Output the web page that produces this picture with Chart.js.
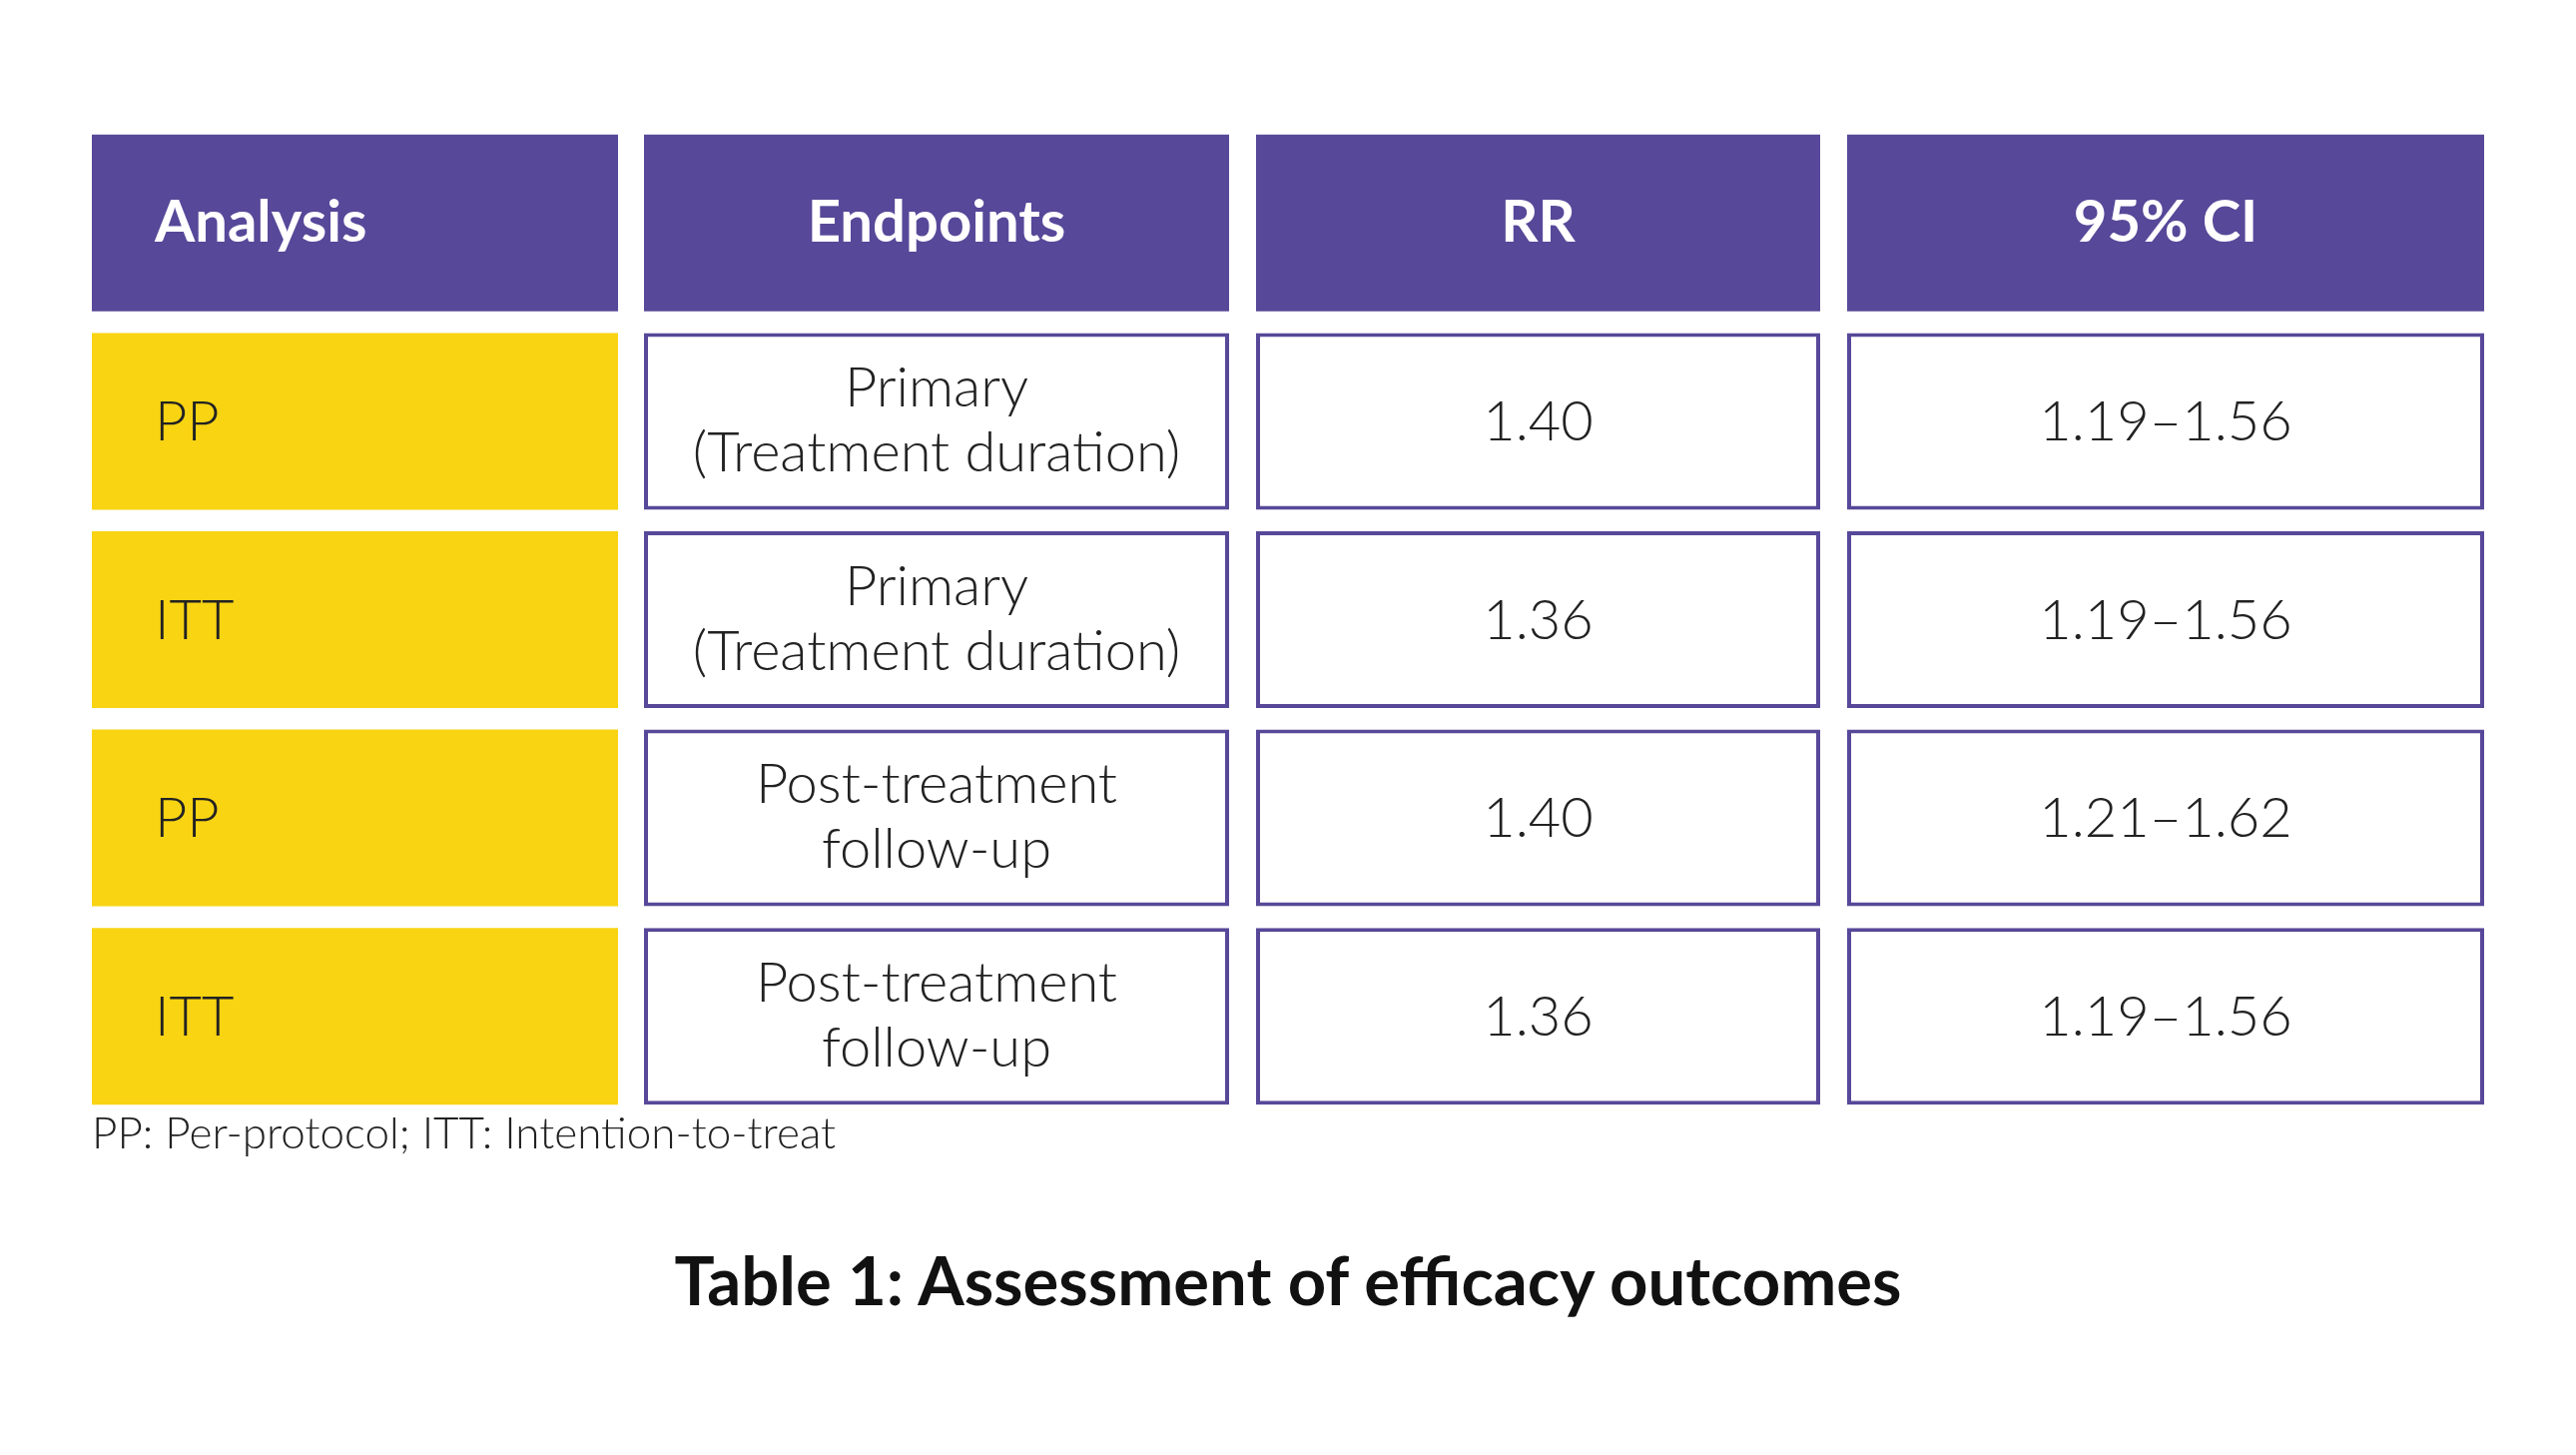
<!DOCTYPE html>
<html>
<head>
<meta charset="utf-8">
<script src="https://cdn.jsdelivr.net/npm/chart.js@4.4.1/dist/chart.umd.min.js"></script>
<style>
  html, body { margin: 0; background: #fff; }
  #wrap { position: relative; width: 2580px; height: 1457px; overflow: hidden; }
  #wrap canvas { position: absolute; left: 0; top: 0; }
  .note { position: absolute; left: 92px; top: 1111px; font: 300 44px "Lato Light", Lato, sans-serif; line-height: 44px; color: #222; white-space: nowrap; }
  .caption { position: absolute; left: 0; top: 1248px; width: 2580px; text-align: center; font: 700 67px Lato, sans-serif; line-height: 67px; color: #111; white-space: nowrap; }
</style>
</head>
<body>
<div id="wrap">
  <canvas id="tableChart" width="2580" height="1457"></canvas>
  <div class="note" id="note"></div>
  <div class="caption" id="caption"></div>
</div>
<script>
// table content
const headers = ["Analysis", "Endpoints", "RR", "95% CI"];
const analysis = ["PP", "ITT", "PP", "ITT"];
const endpoints = [
  ["Primary", "(Treatment duration)"],
  ["Primary", "(Treatment duration)"],
  ["Post-treatment", "follow-up"],
  ["Post-treatment", "follow-up"]
];
const rr = ["1.40", "1.36", "1.40", "1.36"];
const ci = ["1.19–1.56", "1.19–1.56", "1.21–1.62", "1.19–1.56"];
const rowLabels = ["Header", "Row 1", "Row 2", "Row 3", "Row 4"];
const footnote = "PP: Per-protocol; ITT: Intention-to-treat";
const caption = "Table 1: Assessment of efficacy outcomes";

// layout (pixel columns on the x scale)
const colSpans = [[92, 619], [645, 1231], [1258, 1823], [1850, 2488]];
const PURPLE = "#574899";
const YELLOW = "#F8D413";

document.getElementById("note").textContent = footnote;
document.getElementById("caption").textContent = caption;

const bodyCols = [analysis, endpoints, rr, ci];

const datasets = headers.map((h, c) => ({
  label: h,
  data: rowLabels.map(() => colSpans[c]),
  grouped: false,
  backgroundColor: rowLabels.map((r, i) => i === 0 ? PURPLE : (c === 0 ? YELLOW : "#ffffff")),
  borderColor: PURPLE,
  borderWidth: rowLabels.map((r, i) => (i === 0 || c === 0) ? 0 : 4),
  borderSkipped: false,
  barPercentage: 0.891,
  categoryPercentage: 1.0
}));

// draws the cell texts on top of the bars
const cellText = {
  id: "cellText",
  afterDatasetsDraw(chart) {
    const ctx = chart.ctx;
    ctx.save();
    chart.data.datasets.forEach((ds, c) => {
      const meta = chart.getDatasetMeta(c);
      meta.data.forEach((el, i) => {
        const p = el.getProps(["x", "y", "base"], true);
        const left = Math.min(p.x, p.base);
        const cx = (p.x + p.base) / 2;
        const cy = p.y;
        ctx.textBaseline = "alphabetic";
        if (i === 0) {
          ctx.fillStyle = "#ffffff";
          ctx.font = "700 58px Lato, sans-serif";
          ctx.textAlign = c === 0 ? "left" : "center";
          ctx.fillText(headers[c], c === 0 ? left + 63 : cx, cy + 19);
          return;
        }
        const val = bodyCols[c][i - 1];
        ctx.fillStyle = "#222222";
        ctx.font = "300 56px 'Lato Light', Lato, sans-serif";
        if (c === 0) {
          ctx.textAlign = "left";
          ctx.fillText(val, left + 63, cy + 19);
        } else if (Array.isArray(val)) {
          ctx.textAlign = "center";
          ctx.fillText(val[0], cx, cy - 15);
          ctx.fillText(val[1], cx, cy + 50);
        } else {
          ctx.textAlign = "center";
          ctx.fillText(val, cx, cy + 19);
        }
      });
    });
    ctx.restore();
  }
};

new Chart(document.getElementById("tableChart").getContext("2d"), {
  type: "bar",
  data: { labels: rowLabels, datasets: datasets },
  options: {
    indexAxis: "y",
    responsive: false,
    animation: false,
    devicePixelRatio: 1,
    layout: { padding: { top: 124, bottom: 340, left: 0, right: 0 } },
    plugins: { legend: { display: false }, tooltip: { enabled: false } },
    scales: {
      x: { type: "linear", min: 0, max: 2580, display: false },
      y: { type: "category", display: false, offset: true }
    }
  },
  plugins: [cellText]
});
</script>
</body>
</html>
